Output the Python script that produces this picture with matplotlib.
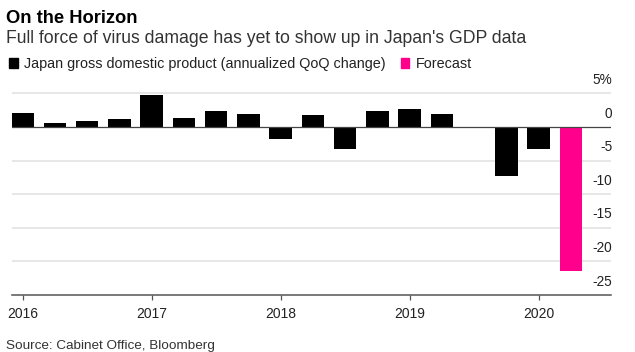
import matplotlib
matplotlib.use("Agg")
import matplotlib.pyplot as plt
from matplotlib.patches import Rectangle

plt.rcParams['font.family'] = ['Liberation Sans', 'DejaVu Sans']

# ---- data ----
quarters = ["2016Q1", "2016Q2", "2016Q3", "2016Q4",
            "2017Q1", "2017Q2", "2017Q3", "2017Q4",
            "2018Q1", "2018Q2", "2018Q3", "2018Q4",
            "2019Q1", "2019Q2", "2019Q3", "2019Q4",
            "2020Q1", "2020Q2"]
gdp_change = [2.1, 0.6, 0.9, 1.2,
              4.7, 1.4, 2.4, 2.0,
              -1.8, 1.8, -3.3, 2.4,
              2.7, 2.0, 0.0, -7.3,
              -3.3, -21.4]
is_forecast = [False] * 17 + [True]
year_ticks = [2016, 2017, 2018, 2019, 2020]
y_ticks = [5, 0, -5, -10, -15, -20, -25]
y_tick_labels = ["5%", "0", "-5", "-10", "-15", "-20", "-25"]

title = "On the Horizon"
subtitle = "Full force of virus damage has yet to show up in Japan's GDP data"
legend_labels = ["Japan gross domestic product (annualized QoQ change)", "Forecast"]
source = "Source: Cabinet Office, Bloomberg"

BLACK = "#000000"
PINK = "#ff008c"

W, H = 635, 352
fig = plt.figure(figsize=(W / 100, H / 100), dpi=100)

def fx(px):
    return px / W

def fy(py):
    return 1 - py / H

ax = fig.add_axes([fx(11.7), fy(295), fx(611) - fx(11.7), fy(86.7) - fy(295)])

xpos = [int(q[:4]) + (int(q[-1]) - 1) / 4 for q in quarters]
colors = [PINK if f else BLACK for f in is_forecast]
ax.bar(xpos, gdp_change, width=0.174, color=colors, zorder=3, linewidth=0)

ax.set_xlim(2015.9147, 2020.5605)
ax.set_ylim(-25, 6)

# gridlines
for v in y_ticks:
    if v == 0:
        ax.axhline(0, color="#444444", linewidth=0.9, zorder=4)
    elif v != -25:
        ax.axhline(v, color="#e3e3e3", linewidth=1.2, zorder=1)

for v, lab in zip(y_ticks, y_tick_labels):
    ax.annotate(lab, xy=(1.0, v), xycoords=("axes fraction", "data"),
                xytext=(1, 6.8), textcoords="offset points",
                ha="right", va="baseline", fontsize=9.8, color="#222222")

for s in ["top", "right", "left"]:
    ax.spines[s].set_visible(False)
ax.spines["bottom"].set_color("#555555")
ax.spines["bottom"].set_linewidth(1.1)
ax.set_yticks([])
ax.set_xticks(year_ticks)
ax.set_xticklabels([str(y) for y in year_ticks])
ax.tick_params(axis="x", direction="out", length=3.6, width=0.9, color="#555555",
               pad=5.0, labelsize=10, labelcolor="#222222")

# titles
fig.text(fx(6.5), fy(22.7), title, fontsize=13.2, fontweight="bold",
         ha="left", va="baseline", color="#000000")
fig.text(fx(6), fy(43.3), subtitle, fontsize=12.7,
         ha="left", va="baseline", color="#333333")

# legend
fig.patches.append(Rectangle((fx(9), fy(67.7)), fx(8.6), fy(58.3) - fy(67.7),
                             transform=fig.transFigure, color=BLACK))
t1 = fig.text(fx(24), fy(67.7), legend_labels[0], fontsize=10.4,
              ha="left", va="baseline", color="#222222")
fig.canvas.draw()
bb = t1.get_window_extent(renderer=fig.canvas.get_renderer())
x_end = bb.x1  # pixels
fig.patches.append(Rectangle((fx(x_end + 15), fy(67.7)), fx(8.6), fy(58.3) - fy(67.7),
                             transform=fig.transFigure, color=PINK))
fig.text(fx(x_end + 30), fy(67.7), legend_labels[1], fontsize=10.4,
         ha="left", va="baseline", color="#222222")

fig.text(fx(6), fy(349), source, fontsize=9.7, ha="left", va="baseline",
         color="#333333")

fig.savefig("out.png", dpi=100)
